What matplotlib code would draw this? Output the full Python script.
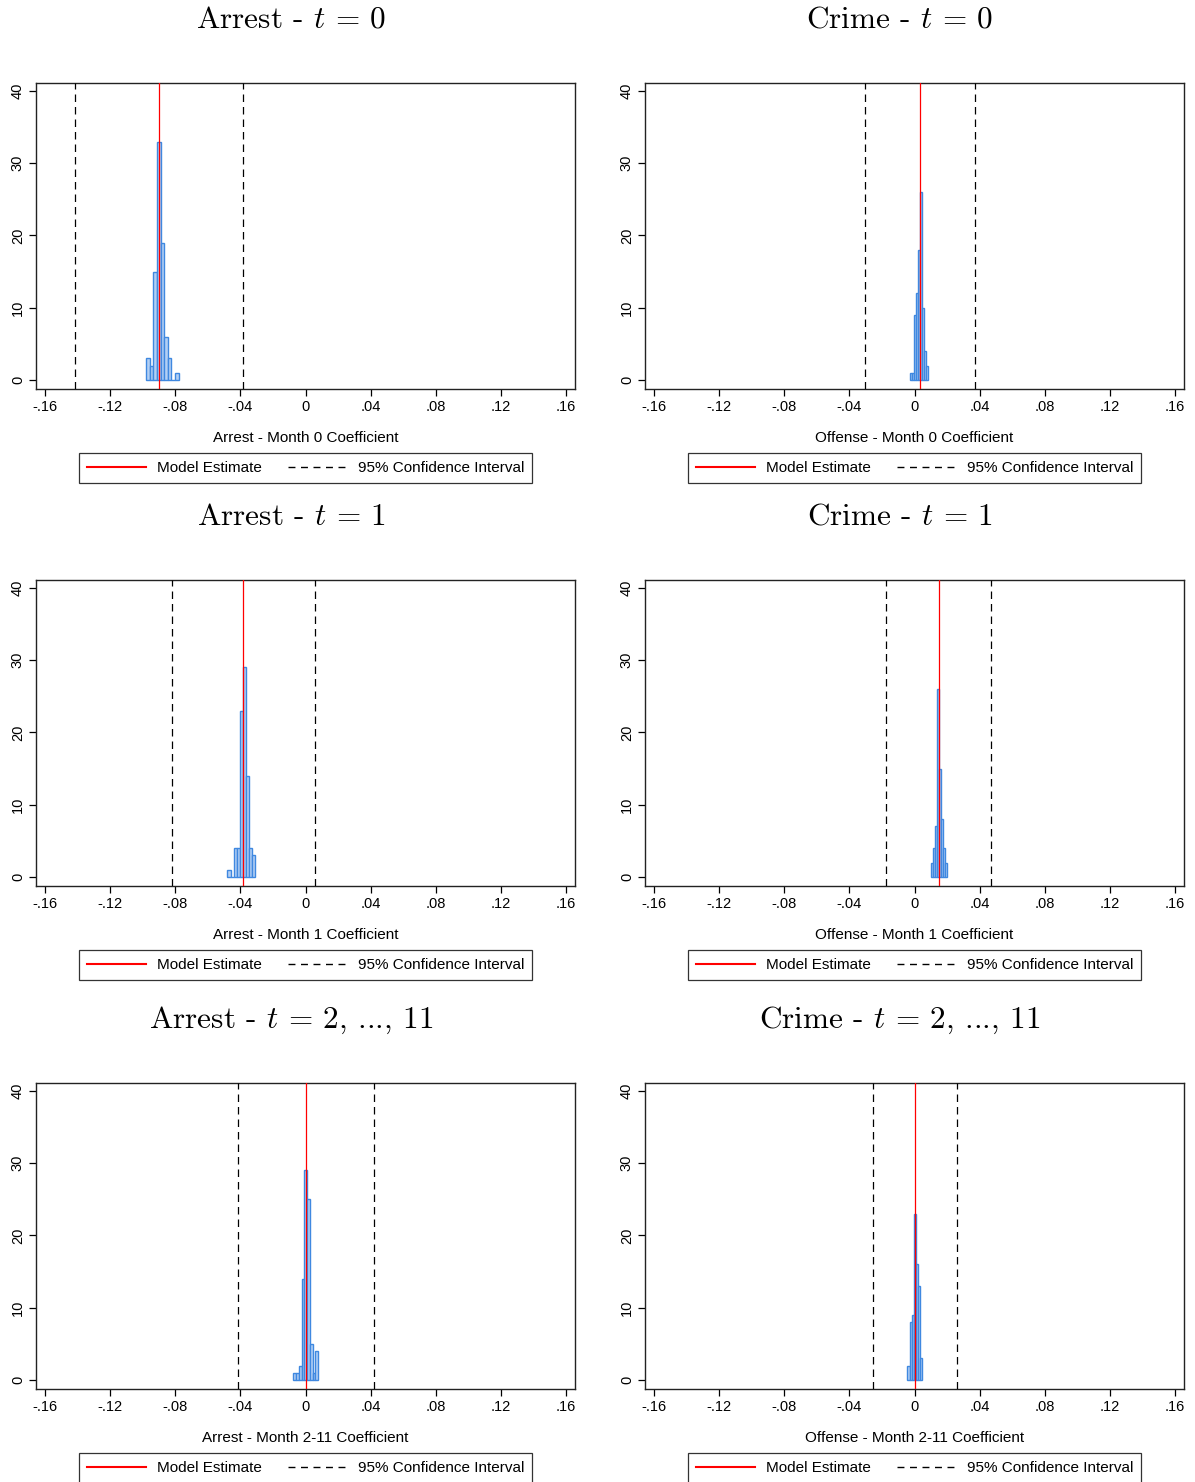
import matplotlib.pyplot as plt
from matplotlib.lines import Line2D

plt.rcParams['font.family'] = ['Liberation Sans', 'DejaVu Sans']
plt.rcParams['mathtext.fontset'] = 'cm'

# Bootstrap histograms: left edge of first bin, bin width, bin heights
arrest_m0_start, arrest_m0_width = -0.098, 0.00224
arrest_m0_heights = [3, 2, 15, 33, 19, 6, 3, 0, 1]
arrest_m1_start, arrest_m1_width = -0.0479, 0.00185
arrest_m1_heights = [1, 0, 4, 4, 23, 29, 14, 4, 3]
arrest_m2_start, arrest_m2_width = -0.0075, 0.0017
arrest_m2_heights = [1, 1, 2, 14, 29, 25, 5, 1, 4]

crime_m0_start, crime_m0_width = -0.0025, 0.00123
crime_m0_heights = [1, 1, 9, 12, 18, 26, 10, 4, 2]
crime_m1_start, crime_m1_width = 0.00985, 0.00123
crime_m1_heights = [2, 4, 7, 26, 15, 8, 4, 2]
crime_m2_start, crime_m2_width = -0.0043, 0.00123
crime_m2_heights = [2, 8, 9, 23, 16, 13, 3]

# Model estimates and 95% confidence bounds (months 0, 1, 2-11)
arrest_estimates = [-0.090, -0.0384, 0.0003]
arrest_ci_low = [-0.1416, -0.082, -0.0415]
arrest_ci_high = [-0.0384, 0.0058, 0.042]
crime_estimates = [0.0031, 0.0148, 0.0003]
crime_ci_low = [-0.0302, -0.0172, -0.0252]
crime_ci_high = [0.0369, 0.0468, 0.0258]

period_labels = ['0', '1', '2, ..., 11']
month_labels = ['0', '1', '2-11']
x_ticks = [-0.16, -0.12, -0.08, -0.04, 0, 0.04, 0.08, 0.12, 0.16]
x_tick_labels = ['-.16', '-.12', '-.08', '-.04', '0', '.04', '.08', '.12', '.16']
y_ticks = [0, 10, 20, 30, 40]

W, H = 1195, 1482
fig = plt.figure(figsize=(W / 100, H / 100), dpi=100)


def draw_panel(left_px, top_px, start, width, heights, est, lo, hi,
               title, xlabel, title_cx):
    ax = fig.add_axes([left_px / W, 1 - (top_px + 306) / H, 539 / W, 306 / H])
    lefts = [start + i * width for i in range(len(heights))]
    ax.bar(lefts, heights, width=width, align='edge', facecolor='#b3d0f4',
           edgecolor='#3f88e0', linewidth=1.0, zorder=2)
    ax.axvline(est, color='red', linewidth=0.9, zorder=3)
    for v in (lo, hi):
        ax.axvline(v, color='black', linewidth=0.9, linestyle=(0, (6, 4)), zorder=3)
    ax.set_xlim(-0.1655, 0.1655)
    ax.set_ylim(-1.25, 41.1)
    ax.set_xticks(x_ticks)
    ax.set_xticklabels(x_tick_labels)
    ax.set_yticks(y_ticks)
    ax.set_yticklabels([str(v) for v in y_ticks], rotation=90, va='center')
    ax.tick_params(direction='out', length=5, width=0.9, labelsize=10.5, pad=3)
    for s in ax.spines.values():
        s.set_linewidth(1.0)
        s.set_color('#222222')
    ax.set_xlabel(xlabel, fontsize=11, labelpad=12)

    fig.text(title_cx / W, 1 - (top_px - 63) / H, title, fontsize=22.5,
             fontfamily='cmr10', ha='center', va='center')

    handles = [Line2D([], [], color='red', linewidth=1.5),
               Line2D([], [], color='black', linewidth=1.0, linestyle=(0, (5, 4)))]
    leg = fig.legend(handles, ['Model Estimate', '95% Confidence Interval'],
                     loc='center', ncol=2, fontsize=11,
                     bbox_to_anchor=((left_px + 269.5) / W, 1 - (top_px + 385) / H),
                     bbox_transform=fig.transFigure, frameon=True, fancybox=False,
                     handlelength=3.9, handletextpad=0.7, columnspacing=1.7,
                     borderpad=0.5)
    leg.get_frame().set_edgecolor('black')
    leg.get_frame().set_linewidth(0.9)
    return ax


row_tops = [83, 580, 1083]
arrest_hist = [(arrest_m0_start, arrest_m0_width, arrest_m0_heights),
               (arrest_m1_start, arrest_m1_width, arrest_m1_heights),
               (arrest_m2_start, arrest_m2_width, arrest_m2_heights)]
crime_hist = [(crime_m0_start, crime_m0_width, crime_m0_heights),
              (crime_m1_start, crime_m1_width, crime_m1_heights),
              (crime_m2_start, crime_m2_width, crime_m2_heights)]

for i, top in enumerate(row_tops):
    s, w, h = arrest_hist[i]
    draw_panel(36, top, s, w, h, arrest_estimates[i], arrest_ci_low[i], arrest_ci_high[i],
               'Arrest - $t$ = ' + period_labels[i],
               'Arrest - Month ' + month_labels[i] + ' Coefficient', 291)
    s, w, h = crime_hist[i]
    draw_panel(645, top, s, w, h, crime_estimates[i], crime_ci_low[i], crime_ci_high[i],
               'Crime - $t$ = ' + period_labels[i],
               'Offense - Month ' + month_labels[i] + ' Coefficient', 900)

fig.savefig('out.png', dpi=100)
